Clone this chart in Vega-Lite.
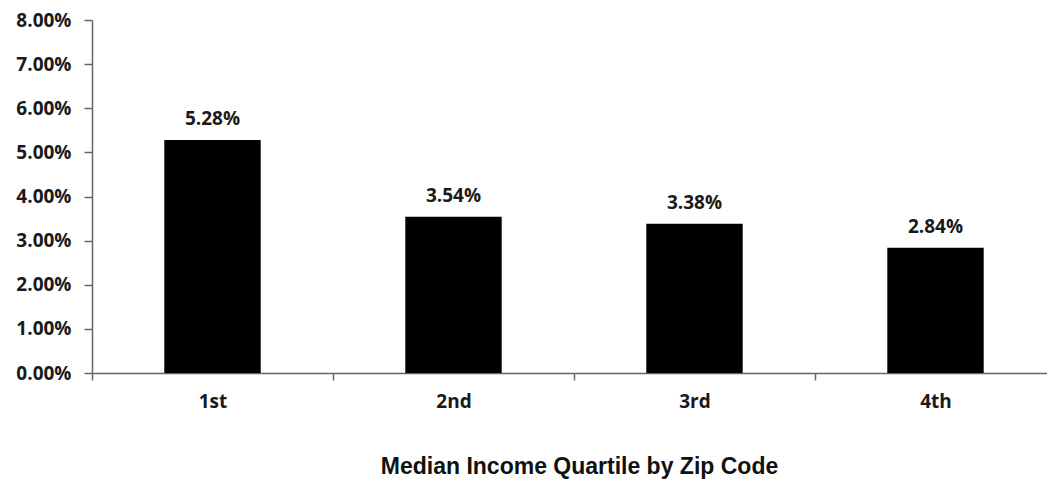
{
  "$schema": "https://vega.github.io/schema/vega-lite/v6.json",
  "autosize": "none",
  "padding": {"left": 92, "top": 20, "right": 0, "bottom": 107},
  "width": 964,
  "height": 353,
  "background": "white",
  "data": {
    "values": [
      {"quartile": "1st", "rate": 0.0528},
      {"quartile": "2nd", "rate": 0.0354},
      {"quartile": "3rd", "rate": 0.0338},
      {"quartile": "4th", "rate": 0.0284}
    ]
  },
  "encoding": {
    "x": {
      "field": "quartile",
      "type": "nominal",
      "sort": null,
      "scale": {"paddingInner": 0, "paddingOuter": 0},
      "axis": {
        "title": "Median Income Quartile by Zip Code",
        "titleFont": "Liberation Sans",
        "titleFontSize": 23,
        "titleFontWeight": "bold",
        "titleColor": "#111111",
        "titleBaseline": "alphabetic",
        "titleX": 487,
        "titleY": 100,
        "titleAlign": "center",
        "labelAngle": 0,
        "labelFont": "Open Sans",
        "labelFontSize": 19,
        "labelFontWeight": "bold",
        "labelColor": "#1a1a1a",
        "labelPadding": 12,
        "tickBand": "extent",
        "tickSize": 7,
        "tickColor": "#666666",
        "domainColor": "#666666",
        "domainWidth": 1.5,
        "tickWidth": 1.5
      }
    },
    "y": {
      "field": "rate",
      "type": "quantitative",
      "scale": {"domain": [0, 0.08], "nice": false},
      "axis": {
        "title": null,
        "format": ".2%",
        "values": [0, 0.01, 0.02, 0.03, 0.04, 0.05, 0.06, 0.07, 0.08],
        "grid": false,
        "labelFont": "Open Sans",
        "labelFontSize": 19,
        "labelFontWeight": "bold",
        "labelColor": "#1a1a1a",
        "labelPadding": 13,
        "tickSize": 8,
        "tickColor": "#666666",
        "domainColor": "#666666",
        "domainWidth": 1.5,
        "tickWidth": 1.5
      }
    }
  },
  "layer": [
    {"mark": {"type": "bar", "color": "#000000", "width": {"band": 0.4}}},
    {
      "mark": {
        "type": "text",
        "baseline": "alphabetic",
        "dy": -15,
        "font": "Open Sans",
        "fontSize": 19,
        "fontWeight": "bold",
        "color": "#1a1a1a"
      },
      "encoding": {
        "text": {"field": "rate", "type": "quantitative", "format": ".2%"}
      }
    }
  ],
  "config": {"view": {"stroke": null}}
}
